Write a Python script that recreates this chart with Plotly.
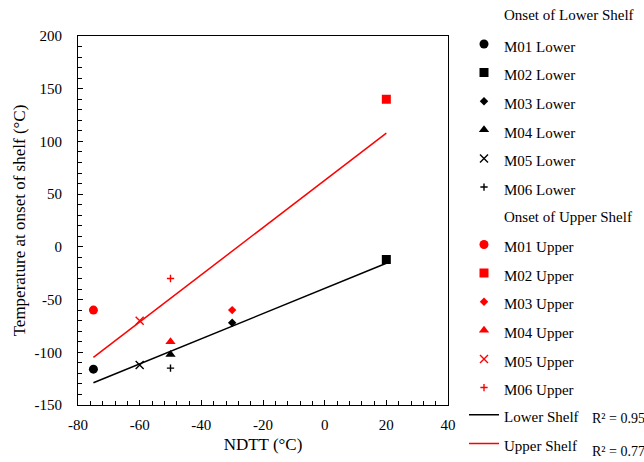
import numpy as np
import plotly.graph_objects as go

materials = ["M01", "M02", "M03", "M04", "M05", "M06"]
ndtt = [-75, 20, -30, -50, -60, -50]
lower_onset = [-116, -12, -72, -102, -112, -115]
upper_onset = [-60, 140, -60, -90, -70, -30]

x_ticks = [-80, -60, -40, -20, 0, 20, 40]
x_ticktext = ["-80", "-60", "-40", "-20", "0", "20", "40"]
y_ticks = [-150, -100, -50, 0, 50, 100, 150, 200]
y_ticktext = ["-150", "-100", "-50", "0", "50", "100", "150", "200"]

symbols = ["circle", "square", "diamond", "triangle-up", "x-thin", "cross-thin"]
sizes = [9, 9, 6.5, 9, 8, 5.2]

FONT = "Liberation Serif"
LEG_FS = 19.7  # controls legend row spacing
TXT = "<span style='font-size:15px'>{}</span>"

# plot-area pixel geometry (for placing legends / annotations in paper coords)
W, H = 644, 462
ML, MR, MT, MB = 78, 196, 36, 57
PW, PH = W - ML - MR, H - MT - MB

def px_x(p):
    return (p - ML) / PW

def px_y(p):
    return (H - MB - p) / PH

fig = go.Figure()

for m, x, y, s, sz in zip(materials, ndtt, lower_onset, symbols, sizes):
    fig.add_trace(go.Scatter(x=[x], y=[y], mode="markers", name=TXT.format(m + " Lower"),
                             legend="legend",
                             marker=dict(symbol=s, size=sz, color="black",
                                         line=dict(color="black", width=1.4 if "thin" in s else 0))))
for m, x, y, s, sz in zip(materials, ndtt, upper_onset, symbols, sizes):
    fig.add_trace(go.Scatter(x=[x], y=[y], mode="markers", name=TXT.format(m + " Upper"),
                             legend="legend2",
                             marker=dict(symbol=s, size=sz, color="red",
                                         line=dict(color="red", width=1.4 if "thin" in s else 0))))

def fit(xs, ys):
    xs = np.array(xs, float); ys = np.array(ys, float)
    k, b = np.polyfit(xs, ys, 1)
    pred = k * xs + b
    r2 = 1 - np.sum((ys - pred) ** 2) / np.sum((ys - ys.mean()) ** 2)
    xl = np.array([xs.min(), xs.max()])
    return xl, k * xl + b, r2

xl, yl, r2l = fit(ndtt, lower_onset)
xu, yu, r2u = fit(ndtt, upper_onset)
fig.add_trace(go.Scatter(x=xl, y=yl, mode="lines", name=TXT.format("Lower Shelf"),
                         line=dict(color="black", width=1.5), legend="legend3"))
fig.add_trace(go.Scatter(x=xu, y=yu, mode="lines", name=TXT.format("Upper Shelf"),
                         line=dict(color="red", width=1.5), legend="legend3"))

axis_common = dict(showline=True, mirror=True, linecolor="black", linewidth=1.2,
                   ticks="inside", ticklen=5, tickcolor="black", tickwidth=1,
                   showgrid=False, zeroline=False, tickmode="array",
                   tickfont=dict(family=FONT, size=15, color="black"))

fig.update_xaxes(range=[-80, 40], tickvals=x_ticks, ticktext=x_ticktext,
                 minor=dict(dtick=4, tick0=-80, ticks="inside", ticklen=4, tickcolor="black", showgrid=False),
                 title=dict(text="NDTT (°C)", font=dict(family=FONT, size=17, color="black"), standoff=6),
                 ticklabelstandoff=6, **axis_common)
fig.update_yaxes(range=[-150, 200], tickvals=y_ticks, ticktext=y_ticktext,
                 minor=dict(dtick=10, tick0=-150, ticks="inside", ticklen=4, tickcolor="black", showgrid=False),
                 title=dict(text="Temperature at onset of shelf (°C)", font=dict(family=FONT, size=17, color="black"), standoff=4),
                 ticklabelstandoff=12, **axis_common)

leg_common = dict(font=dict(family=FONT, size=LEG_FS, color="black"), bgcolor="rgba(0,0,0,0)",
                  xref="paper", yref="paper", xanchor="left", yanchor="top",
                  traceorder="normal", borderwidth=0, x=px_x(464))

def ann(text, xp, yp, size):
    return dict(text=text, xref="paper", yref="paper", x=px_x(xp), y=px_y(yp),
                xanchor="left", yanchor="middle", showarrow=False,
                font=dict(family=FONT, size=size, color="black"))

fig.update_layout(
    width=W, height=H,
    margin=dict(l=ML, r=MR, t=MT, b=MB, autoexpand=False),
    paper_bgcolor="white", plot_bgcolor="white",
    showlegend=True,
    legend=dict(y=px_y(24.7), **leg_common),
    legend2=dict(y=px_y(225.2), **leg_common),
    legend3=dict(y=px_y(395.5), **leg_common),
    annotations=[
        ann("Onset of Lower Shelf", 502, 15.5, 15),
        ann("Onset of Upper Shelf", 502, 216.5, 15),
        ann(f"R² = {r2l:.2f}", 590, 418, 14),
        ann(f"R² = {r2u:.2f}", 590, 451, 14),
    ],
)

fig.write_html("out.html")
